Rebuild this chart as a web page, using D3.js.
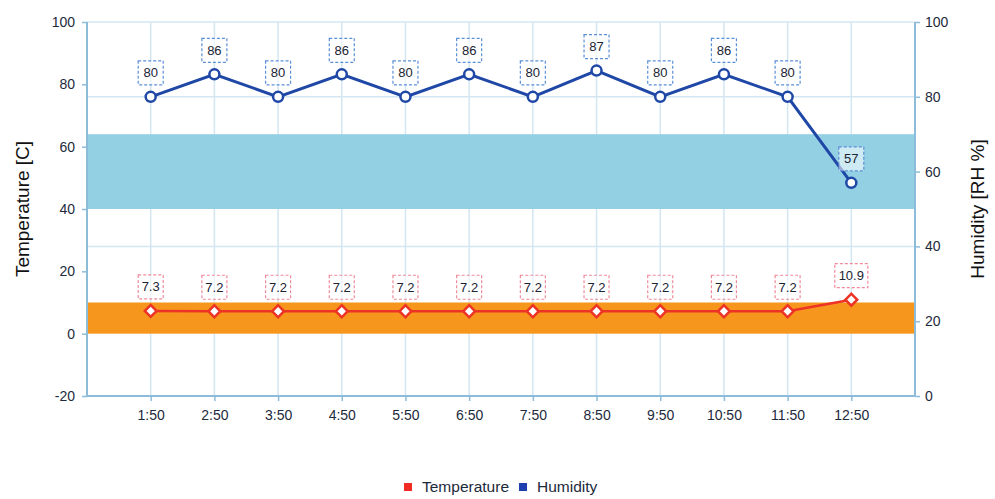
<!DOCTYPE html>
<html>
<head>
<meta charset="utf-8">
<script src="https://cdn.jsdelivr.net/npm/d3@7"></script>
<style>
  body { margin: 0; background: #fff; }
  svg { font-family: "Liberation Sans", Arial, sans-serif; }
</style>
</head>
<body>
<svg id="chart" width="995" height="499"></svg>
<script>
const times = ["1:50", "2:50", "3:50", "4:50", "5:50", "6:50", "7:50", "8:50", "9:50", "10:50", "11:50", "12:50"]
const temperature = [7.3, 7.2, 7.2, 7.2, 7.2, 7.2, 7.2, 7.2, 7.2, 7.2, 7.2, 10.9]
const humidity = [80, 86, 80, 86, 80, 86, 80, 87, 80, 86, 80, 57]
const tempTicks = [-20, 0, 20, 40, 60, 80, 100]
const humTicks = [0, 20, 40, 60, 80, 100]
const tempBand = [0, 10]
const humBand = [50, 70]

const plotLeft = 87, plotRight = 915, plotTop = 22, plotBottom = 396

const svg = d3.select('#chart')

const xScale = d3.scaleLinear()
    .domain([0, times.length + 1])
    .range([plotLeft, plotRight])
const yTemp = d3.scaleLinear()
    .domain([-20, 100])
    .range([plotBottom, plotTop])
const yHum = d3.scaleLinear()
    .domain([0, 100])
    .range([plotBottom, plotTop])

const axisColor = '#8cbcd9'
const gridColor = '#d3e6f2'

// grid (under the bands)
const grid = svg.append('g')
humTicks.forEach(t => {
    grid.append('line')
        .attr('x1', plotLeft).attr('x2', plotRight)
        .attr('y1', yHum(t)).attr('y2', yHum(t))
        .attr('stroke', gridColor).attr('stroke-width', 1.5)
})
times.forEach((t, i) => {
    grid.append('line')
        .attr('x1', xScale(i + 1)).attr('x2', xScale(i + 1))
        .attr('y1', plotTop).attr('y2', plotBottom)
        .attr('stroke', gridColor).attr('stroke-width', 1.5)
})

// bands
svg.append('rect')
    .attr('x', plotLeft).attr('width', plotRight - plotLeft)
    .attr('y', yHum(humBand[1]))
    .attr('height', yHum(humBand[0]) - yHum(humBand[1]))
    .attr('fill', '#93d0e4')
svg.append('rect')
    .attr('x', plotLeft).attr('width', plotRight - plotLeft)
    .attr('y', yTemp(tempBand[1]))
    .attr('height', yTemp(tempBand[0]) - yTemp(tempBand[1]))
    .attr('fill', '#f7961c')

// axes
const leftAxis = svg.append('g')
    .attr('transform', `translate(${plotLeft},0)`)
    .call(d3.axisLeft(yTemp).tickValues(tempTicks).tickFormat(d => String(d)).tickSize(5).tickPadding(7))
const rightAxis = svg.append('g')
    .attr('transform', `translate(${plotRight},0)`)
    .call(d3.axisRight(yHum).tickValues(humTicks).tickFormat(d => String(d)).tickSize(5).tickPadding(5))
const xAxis = svg.append('g')
    .attr('transform', `translate(0,${plotBottom})`)
    .call(d3.axisBottom(xScale)
        .tickValues(d3.range(1, times.length + 1))
        .tickFormat(i => times[i - 1])
        .tickSize(5).tickPadding(9))

;[leftAxis, rightAxis, xAxis].forEach(a => {
    a.select('.domain').attr('stroke', axisColor).attr('stroke-width', 2)
    a.selectAll('.tick line').attr('stroke', axisColor).attr('stroke-width', 1.5)
    a.selectAll('.tick text').attr('fill', '#1c2a3c').style('font-size', '14px')
})
leftAxis.select('.domain').attr('d', `M0,${plotTop}V${plotBottom}`)
rightAxis.select('.domain').attr('d', `M0,${plotTop}V${plotBottom}`)
xAxis.select('.domain').attr('d', `M${plotLeft},0H${plotRight}`)

// axis titles
svg.append('text')
    .attr('transform', `translate(22,${(plotTop + plotBottom) / 2}) rotate(-90)`)
    .attr('text-anchor', 'middle')
    .attr('dy', '0.35em')
    .style('font-size', '19px')
    .attr('fill', '#111')
    .text('Temperature [C]')
svg.append('text')
    .attr('transform', `translate(977,${(plotTop + plotBottom) / 2}) rotate(-90)`)
    .attr('text-anchor', 'middle')
    .attr('dy', '0.35em')
    .style('font-size', '19px')
    .attr('fill', '#111')
    .text('Humidity [RH %]')

// lines
const humLine = d3.line()
    .x((d, i) => xScale(i + 1))
    .y(d => yHum(d))
const tempLine = d3.line()
    .x((d, i) => xScale(i + 1))
    .y(d => yTemp(d))

svg.append('path')
    .datum(temperature)
    .attr('d', tempLine)
    .attr('fill', 'none')
    .attr('stroke', '#ec3326')
    .attr('stroke-width', 2.5)
svg.append('path')
    .datum(humidity)
    .attr('d', humLine)
    .attr('fill', 'none')
    .attr('stroke', '#1f47a6')
    .attr('stroke-width', 3)

// markers
svg.append('g').selectAll('path')
    .data(temperature)
    .join('path')
    .attr('transform', (d, i) => `translate(${xScale(i + 1)},${yTemp(d)}) rotate(45)`)
    .attr('d', d3.symbol(d3.symbolSquare, 70))
    .attr('fill', '#fff')
    .attr('stroke', '#ec3326')
    .attr('stroke-width', 2.5)
svg.append('g').selectAll('circle')
    .data(humidity)
    .join('circle')
    .attr('cx', (d, i) => xScale(i + 1))
    .attr('cy', d => yHum(d))
    .attr('r', 5)
    .attr('fill', '#fff')
    .attr('stroke', '#1f47a6')
    .attr('stroke-width', 2.5)

// value labels
function labels(data, yFn, border, fmt) {
    const g = svg.append('g')
    data.forEach((d, i) => {
        const txt = fmt(d)
        const w = txt.length > 3 ? 33 : 25
        const cx = xScale(i + 1)
        const cy = yFn(d) - 24
        g.append('rect')
            .attr('x', cx - w / 2).attr('y', cy - 12)
            .attr('width', w).attr('height', 24)
            .attr('fill', 'rgba(255,255,255,0.55)')
            .attr('stroke', border)
            .attr('stroke-width', 1.2)
            .attr('stroke-dasharray', '3 2')
        g.append('text')
            .attr('x', cx).attr('y', cy)
            .attr('dy', '0.35em')
            .attr('text-anchor', 'middle')
            .style('font-size', '13px')
            .attr('fill', '#1c2433')
            .text(txt)
    })
}
labels(humidity, yHum, '#5b8fd6', d => String(d))
labels(temperature, yTemp, '#f08a9a', d => d.toFixed(1))

// legend
const legend = svg.append('g').attr('transform', 'translate(0,487)')
const items = [['Temperature', '#ef2b24'], ['Humidity', '#1f3fb0']]
let lx = 404
items.forEach(([name, color]) => {
    legend.append('rect')
        .attr('x', lx).attr('y', -4)
        .attr('width', 8).attr('height', 8)
        .attr('fill', color)
    const t = legend.append('text')
        .attr('x', lx + 18).attr('y', 0)
        .attr('dy', '0.35em')
        .style('font-size', '15.5px')
        .attr('fill', '#1c2a3c')
        .text(name)
    lx += 18 + t.node().getComputedTextLength() + 10
})
</script>
</body>
</html>
